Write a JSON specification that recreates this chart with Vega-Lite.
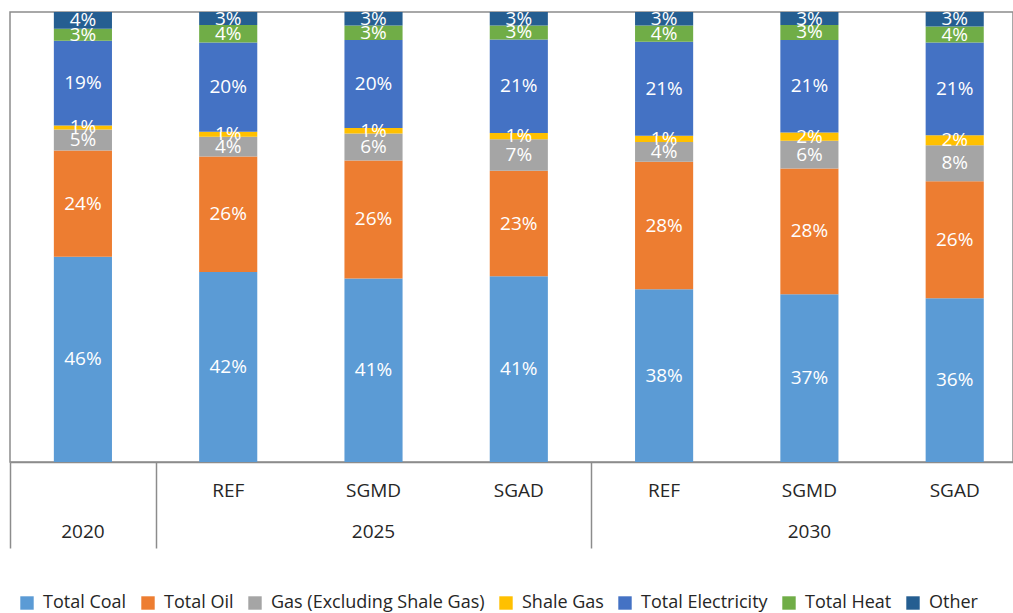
{
  "$schema": "https://vega.github.io/schema/vega-lite/v6.json",
  "width": 1003,
  "height": 450,
  "autosize": {"type": "none"},
  "padding": {"left": 10, "top": 12, "right": 0, "bottom": 151},
  "background": "white",
  "config": {
    "view": {"stroke": "#8c8c8c", "strokeWidth": 1.5},
    "font": "Open Sans"
  },
  "data": {
    "values": [
      {"bar": "2020", "cat": "Total Coal", "k": 1, "v": 0.456},
      {"bar": "2020", "cat": "Total Oil", "k": 2, "v": 0.236},
      {"bar": "2020", "cat": "Gas (Excluding Shale Gas)", "k": 3, "v": 0.047},
      {"bar": "2020", "cat": "Shale Gas", "k": 4, "v": 0.009},
      {"bar": "2020", "cat": "Total Electricity", "k": 5, "v": 0.188},
      {"bar": "2020", "cat": "Total Heat", "k": 6, "v": 0.027},
      {"bar": "2020", "cat": "Other", "k": 7, "v": 0.037},
      {"bar": "2025 REF", "cat": "Total Coal", "k": 1, "v": 0.422},
      {"bar": "2025 REF", "cat": "Total Oil", "k": 2, "v": 0.257},
      {"bar": "2025 REF", "cat": "Gas (Excluding Shale Gas)", "k": 3, "v": 0.044},
      {"bar": "2025 REF", "cat": "Shale Gas", "k": 4, "v": 0.011},
      {"bar": "2025 REF", "cat": "Total Electricity", "k": 5, "v": 0.198},
      {"bar": "2025 REF", "cat": "Total Heat", "k": 6, "v": 0.039},
      {"bar": "2025 REF", "cat": "Other", "k": 7, "v": 0.029},
      {"bar": "2025 SGMD", "cat": "Total Coal", "k": 1, "v": 0.408},
      {"bar": "2025 SGMD", "cat": "Total Oil", "k": 2, "v": 0.262},
      {"bar": "2025 SGMD", "cat": "Gas (Excluding Shale Gas)", "k": 3, "v": 0.060},
      {"bar": "2025 SGMD", "cat": "Shale Gas", "k": 4, "v": 0.012},
      {"bar": "2025 SGMD", "cat": "Total Electricity", "k": 5, "v": 0.196},
      {"bar": "2025 SGMD", "cat": "Total Heat", "k": 6, "v": 0.032},
      {"bar": "2025 SGMD", "cat": "Other", "k": 7, "v": 0.030},
      {"bar": "2025 SGAD", "cat": "Total Coal", "k": 1, "v": 0.413},
      {"bar": "2025 SGAD", "cat": "Total Oil", "k": 2, "v": 0.234},
      {"bar": "2025 SGAD", "cat": "Gas (Excluding Shale Gas)", "k": 3, "v": 0.070},
      {"bar": "2025 SGAD", "cat": "Shale Gas", "k": 4, "v": 0.014},
      {"bar": "2025 SGAD", "cat": "Total Electricity", "k": 5, "v": 0.208},
      {"bar": "2025 SGAD", "cat": "Total Heat", "k": 6, "v": 0.031},
      {"bar": "2025 SGAD", "cat": "Other", "k": 7, "v": 0.030},
      {"bar": "2030 REF", "cat": "Total Coal", "k": 1, "v": 0.384},
      {"bar": "2030 REF", "cat": "Total Oil", "k": 2, "v": 0.283},
      {"bar": "2030 REF", "cat": "Gas (Excluding Shale Gas)", "k": 3, "v": 0.044},
      {"bar": "2030 REF", "cat": "Shale Gas", "k": 4, "v": 0.014},
      {"bar": "2030 REF", "cat": "Total Electricity", "k": 5, "v": 0.209},
      {"bar": "2030 REF", "cat": "Total Heat", "k": 6, "v": 0.036},
      {"bar": "2030 REF", "cat": "Other", "k": 7, "v": 0.030},
      {"bar": "2030 SGMD", "cat": "Total Coal", "k": 1, "v": 0.373},
      {"bar": "2030 SGMD", "cat": "Total Oil", "k": 2, "v": 0.279},
      {"bar": "2030 SGMD", "cat": "Gas (Excluding Shale Gas)", "k": 3, "v": 0.062},
      {"bar": "2030 SGMD", "cat": "Shale Gas", "k": 4, "v": 0.018},
      {"bar": "2030 SGMD", "cat": "Total Electricity", "k": 5, "v": 0.206},
      {"bar": "2030 SGMD", "cat": "Total Heat", "k": 6, "v": 0.033},
      {"bar": "2030 SGMD", "cat": "Other", "k": 7, "v": 0.029},
      {"bar": "2030 SGAD", "cat": "Total Coal", "k": 1, "v": 0.364},
      {"bar": "2030 SGAD", "cat": "Total Oil", "k": 2, "v": 0.260},
      {"bar": "2030 SGAD", "cat": "Gas (Excluding Shale Gas)", "k": 3, "v": 0.080},
      {"bar": "2030 SGAD", "cat": "Shale Gas", "k": 4, "v": 0.022},
      {"bar": "2030 SGAD", "cat": "Total Electricity", "k": 5, "v": 0.206},
      {"bar": "2030 SGAD", "cat": "Total Heat", "k": 6, "v": 0.036},
      {"bar": "2030 SGAD", "cat": "Other", "k": 7, "v": 0.032}
    ]
  },
  "layer": [
    {
      "mark": {"type": "bar"},
      "encoding": {
        "x": {
          "field": "bar",
          "type": "nominal",
          "sort": null,
          "scale": {"paddingInner": 0.6, "paddingOuter": 0.2515, "align": 0.6},
          "axis": {
            "title": null,
            "orient": "bottom",
            "labels": false,
            "domainColor": "#8c8c8c",
            "domainWidth": 1.5,
            "bandPosition": 0,
            "tickOffset": -43.6,
            "tickSize": 86,
            "tickWidth": 1.5,
            "tickColor": "#8c8c8c",
            "tickOpacity": {"condition": {"test": "datum.value == '2020' || datum.value == '2025 REF' || datum.value == '2030 REF'", "value": 1}, "value": 0}
          }
        },
        "y": {"field": "v", "type": "quantitative", "stack": "zero", "scale": {"domain": [0, 1], "nice": false}, "axis": null},
        "order": {"field": "k", "type": "quantitative"},
        "color": {
          "field": "cat",
          "type": "nominal",
          "sort": null,
          "scale": {
            "domain": ["Total Coal", "Total Oil", "Gas (Excluding Shale Gas)", "Shale Gas", "Total Electricity", "Total Heat", "Other"],
            "range": ["#5B9BD5", "#ED7D31", "#A5A5A5", "#FFC000", "#4472C4", "#70AD47", "#255E91"]
          },
          "legend": {
            "title": null,
            "orient": "none",
            "direction": "horizontal",
            "legendX": 8,
            "legendY": 582,
            "symbolType": "square",
            "symbolSize": 180,
            "symbolStrokeWidth": 0,
            "labelFont": "Open Sans",
            "labelFontSize": 18,
            "labelLimit": 0,
            "labelColor": "#262626",
            "labelOffset": 7,
            "columnPadding": 12,
            "padding": 0
          }
        }
      }
    },
    {
      "mark": {"type": "text", "color": "white", "fontSize": 19, "font": "Open Sans"},
      "encoding": {
        "x": {
          "field": "bar",
          "type": "nominal",
          "sort": null,
          "axis": {
            "title": null,
            "orient": "bottom",
            "domain": false,
            "ticks": false,
            "labelAngle": 0,
            "labelFont": "Open Sans",
            "labelFontSize": 19,
            "labelColor": "#262626",
            "labelLineHeight": 41,
            "labelPadding": 19,
            "labelExpr": "datum.value == '2020' ? ['', '2020'] : [split(datum.value, ' ')[1], indexof(datum.value, 'SGMD') >= 0 ? split(datum.value, ' ')[0] : '']"
          }
        },
        "y": {"field": "v", "type": "quantitative", "stack": "zero", "bandPosition": 0.5},
        "order": {"field": "k", "type": "quantitative"},
        "detail": {"field": "cat", "type": "nominal"},
        "text": {"field": "v", "type": "quantitative", "format": ".0%"}
      }
    }
  ],
  "resolve": {"axis": {"x": "independent"}}
}
